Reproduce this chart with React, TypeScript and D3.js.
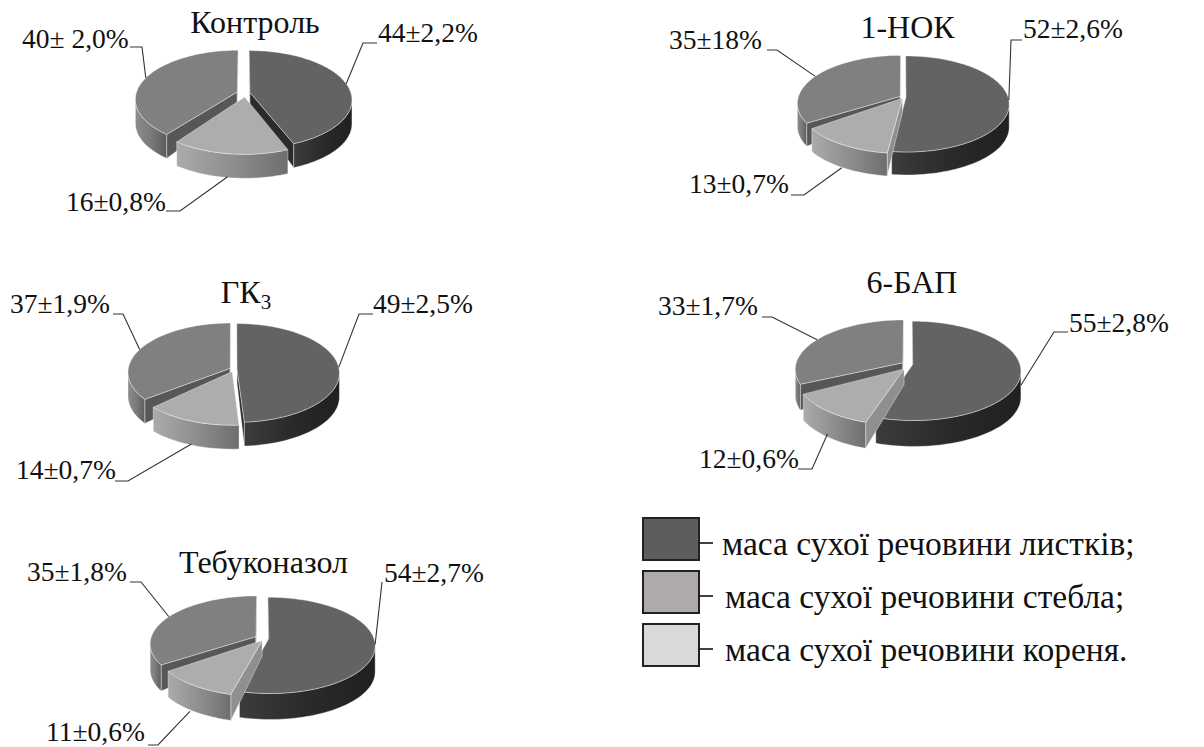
import React from "react";
import * as d3 from "d3";

// Dry-mass shares per plant part for each treatment, in percent.
const treatments = ["Контроль", "1-НОК", "ГК", "6-БАП", "Тебуконазол"];
const leafShare = [44, 52, 49, 55, 54];
const rootShare = [16, 13, 14, 12, 11];
const stemShare = [40, 35, 37, 33, 35];
const leafLabels = ["44±2,2%", "52±2,6%", "49±2,5%", "55±2,8%", "54±2,7%"];
const rootLabels = ["16±0,8%", "13±0,7%", "14±0,7%", "12±0,6%", "11±0,6%"];
const stemLabels = ["40± 2,0%", "35±18%", "37±1,9%", "33±1,7%", "35±1,8%"];
const legendItems = [
  "маса сухої речовини листків;",
  "маса сухої речовини стебла;",
  "маса сухої речовини кореня.",
];
const legendFills = ["#5d5d5d", "#aeaaaa", "#d9d9d9"];

// Appearance of each wedge kind: top face, cut face, outer wall gradient stops.
const partStyles = [
  { top: "#636363", cut: "#2b2b2b", rim: ["#3c3c3c", "#2a2a2a", "#202020"] },
  { top: "#adadad", cut: "#8f8f8f", rim: ["#ababab", "#8e8e8e", "#6e6e6e"] },
  { top: "#808080", cut: "#575757", rim: ["#8c8c8c", "#7a7a7a", "#5c5c5c"] },
];

// Placement of each pie: centre, radius, squash, perspective, depth, explosion,
// extra shift of the root wedge, and the sliver (degrees) between root and stem wedges.
const pieFrames = [
  { cx: 243.5, cy: 93, r: 101, a: 48, k: 0.143, d: 24, e: 0.065, nudge: [2, 1], lead: 2 },
  { cx: 903, cy: 97, r: 102, a: 47, k: 0.143, d: 23, e: 0.03, nudge: [1, 0], lead: 4 },
  { cx: 233.5, cy: 369, r: 102, a: 49, k: 0.08, d: 24, e: 0.035, nudge: [0, 1], lead: 6 },
  { cx: 907.5, cy: 364, r: 107, a: 48.7, k: 0.13, d: 26, e: 0.05, nudge: [0, 3], lead: 4 },
  { cx: 262, cy: 638, r: 105, a: 47, k: 0.145, d: 26, e: 0.065, nudge: [4, 0], lead: 2 },
];

// The cut faces look shorter toward the hub than at the rim.
const HUB_DEPTH = 0.6;

// Title anchor (middle) and baseline.
const titleSpots = [
  [255, 33],
  [907.5, 38],
  [246, 303],
  [912, 293],
  [263.5, 573],
];

// Callouts per pie, per part [leaf, root, stem]: text x, baseline, elbow x, elbow y, tail x, wall share.
const callouts = [
  [
    [378, 42, 363, 43, 377, 0],
    [66, 211, 180, 211, 166, 1],
    [22, 48, 142, 47, 130, 0],
  ],
  [
    [1023, 38, 1011, 40, 1022, 0],
    [689, 193, 804, 195, 791, 1],
    [669, 49, 777, 50, 767, 0],
  ],
  [
    [373, 313, 359, 314, 373, 0],
    [16, 479, 128, 481, 115, 1],
    [10, 313, 123, 314, 113, 0],
  ],
  [
    [1069, 332, 1054, 332, 1068, 0.5],
    [699, 468, 812, 469, 798, 1],
    [658, 315, 772, 317, 762, 0],
  ],
  [
    [384, 582, 382, 582, 382, 0],
    [46, 741, 158, 745, 148, 1],
    [27, 581, 141, 582, 130, 0],
  ],
];

const SERIF = "'Liberation Serif', 'Times New Roman', serif";
const INK = "#111";
const ROOT = 1;
const STEM = 2;

type Frame = (typeof pieFrames)[number];
type Pt = [number, number];

// Perspective projection of a point of the unit disc (u right, v toward the viewer).
function project(f: Frame, u: number, v: number): Pt {
  const w = 1 - f.k * v;
  return [f.cx + (f.r * u) / w, f.cy + (f.a * v) / w];
}

const outline = d3.line<Pt>();
const closed = (pts: Pt[]) => `${outline(pts)}Z`;
const lowered = (pts: Pt[], d: number): Pt[] => pts.map(([x, y]) => [x, y + d]);

function cutFace(hub: Pt, rim: Pt, d: number) {
  return closed([hub, rim, [rim[0], rim[1] + d], [hub[0], hub[1] + d * HUB_DEPTH]]);
}

function Wedge({ f, arc, part, id }: { f: Frame; arc: d3.PieArcDatum<number>; part: number; id: string }) {
  const style = partStyles[part];
  const mid = (arc.startAngle + arc.endAngle) / 2;
  const ox = f.e * Math.sin(mid);
  const oy = -f.e * Math.cos(mid);
  const [nx, ny] = part === ROOT ? f.nudge : [0, 0];
  const place = ([x, y]: Pt): Pt => [x + nx, y + ny];
  const apex = place(project(f, ox, oy));
  const start = arc.startAngle + (part === STEM ? (f.lead * Math.PI) / 180 : 0);
  const steps = Math.max(8, Math.ceil(((arc.endAngle - start) * 180) / Math.PI / 2));
  const rimAngle = d3.scaleLinear().domain([0, steps]).range([start, arc.endAngle]);
  const rim: Pt[] = d3.range(steps + 1).map((i) => {
    const t = rimAngle(i);
    return place(project(f, ox + Math.sin(t), oy - Math.cos(t)));
  });

  // Only walls whose top edge runs right-to-left on a clockwise outline face the viewer.
  const bands: Pt[][] = [];
  let band: Pt[] = [];
  for (let i = 0; i < rim.length - 1; i++) {
    if (rim[i + 1][0] < rim[i][0]) {
      if (!band.length) band.push(rim[i]);
      band.push(rim[i + 1]);
    } else if (band.length) {
      bands.push(band);
      band = [];
    }
  }
  if (band.length) bands.push(band);

  const first = rim[0];
  const last = rim[rim.length - 1];
  const cuts: string[] = [];
  if (first[0] < apex[0]) cuts.push(cutFace(apex, first, f.d));
  if (apex[0] < last[0]) cuts.push(cutFace(apex, last, f.d));

  const edge = { stroke: "#fff", strokeOpacity: 0.55, strokeWidth: 0.7, strokeLinejoin: "round" as const };

  return (
    <g>
      {cuts.map((c, i) => (
        <path key={i} d={c} fill={style.cut} {...edge} />
      ))}
      {bands.map((b, i) => {
        const xs = d3.extent(b, (p) => p[0]) as [number, number];
        const gid = `${id}-${i}`;
        return (
          <g key={i}>
            <linearGradient id={gid} gradientUnits="userSpaceOnUse" x1={xs[0]} x2={xs[1]} y1={0} y2={0}>
              <stop offset="0" stopColor={style.rim[0]} />
              <stop offset="0.5" stopColor={style.rim[1]} />
              <stop offset="1" stopColor={style.rim[2]} />
            </linearGradient>
            <path d={closed([...b, ...lowered(b, f.d).reverse()])} fill={`url(#${gid})`} {...edge} />
          </g>
        );
      })}
      <path d={closed([apex, ...rim])} fill={style.top} {...edge} />
    </g>
  );
}

function Callout({ f, arc, text, spot }: { f: Frame; arc: d3.PieArcDatum<number>; text: string; spot: number[] }) {
  const [tx, ty, ex, ey, tail, wall] = spot;
  const mid = (arc.startAngle + arc.endAngle) / 2;
  const [sx, sy] = project(f, (1 + f.e) * Math.sin(mid), -(1 + f.e) * Math.cos(mid));
  const pts: Pt[] = [
    [sx, sy + wall * f.d],
    [ex, ey],
    [tail, ey],
  ];
  return (
    <g>
      <path d={outline(pts)!} fill="none" stroke="#333" strokeWidth={1.1} />
      <text x={tx} y={ty} fontFamily={SERIF} fontSize={27.5} fill={INK}>
        {text}
      </text>
    </g>
  );
}

function Pie3D({ index }: { index: number }) {
  const f = pieFrames[index];
  const shares = [leafShare[index], rootShare[index], stemShare[index]];
  const labels = [leafLabels[index], rootLabels[index], stemLabels[index]];
  const arcs = d3.pie<number>().sort(null)(shares);
  // Paint the wedges from the back of the disc toward the front.
  const order = d3.range(3).sort(
    (p, q) =>
      -Math.cos((arcs[p].startAngle + arcs[p].endAngle) / 2) -
      -Math.cos((arcs[q].startAngle + arcs[q].endAngle) / 2)
  );
  const [tx, ty] = titleSpots[index];
  return (
    <g>
      {order.map((p) => (
        <Wedge key={p} f={f} arc={arcs[p]} part={p} id={`rim-${index}-${p}`} />
      ))}
      {arcs.map((arc, p) => (
        <Callout key={p} f={f} arc={arc} text={labels[p]} spot={callouts[index][p]} />
      ))}
      <text x={tx} y={ty} textAnchor="middle" fontFamily={SERIF} fontSize={32} fill={INK}>
        {treatments[index]}
        {treatments[index] === "ГК" && (
          <tspan fontSize={21} dy={6}>
            3
          </tspan>
        )}
      </text>
    </g>
  );
}

export default function App() {
  const rowY = d3.scalePoint<number>().domain(d3.range(3)).range([518, 624]);
  const textX = [722, 725, 725];
  return (
    <svg
      width={1204}
      height={747}
      viewBox="0 0 1204 747"
      style={{ position: "absolute", left: 0, top: 0, background: "#fff" }}
    >
      {treatments.map((_, i) => (
        <Pie3D key={i} index={i} />
      ))}
      {legendItems.map((item, i) => {
        const y = rowY(i)!;
        return (
          <g key={item}>
            <rect x={643} y={y} width={56} height={42} fill={legendFills[i]} stroke="#222" strokeWidth={2} />
            <line x1={699} x2={713} y1={y + 25} y2={y + 25} stroke="#111" strokeWidth={1.6} />
            <text x={textX[i]} y={y + 37} fontFamily={SERIF} fontSize={33.5} fill={INK}>
              {item}
            </text>
          </g>
        );
      })}
    </svg>
  );
}
